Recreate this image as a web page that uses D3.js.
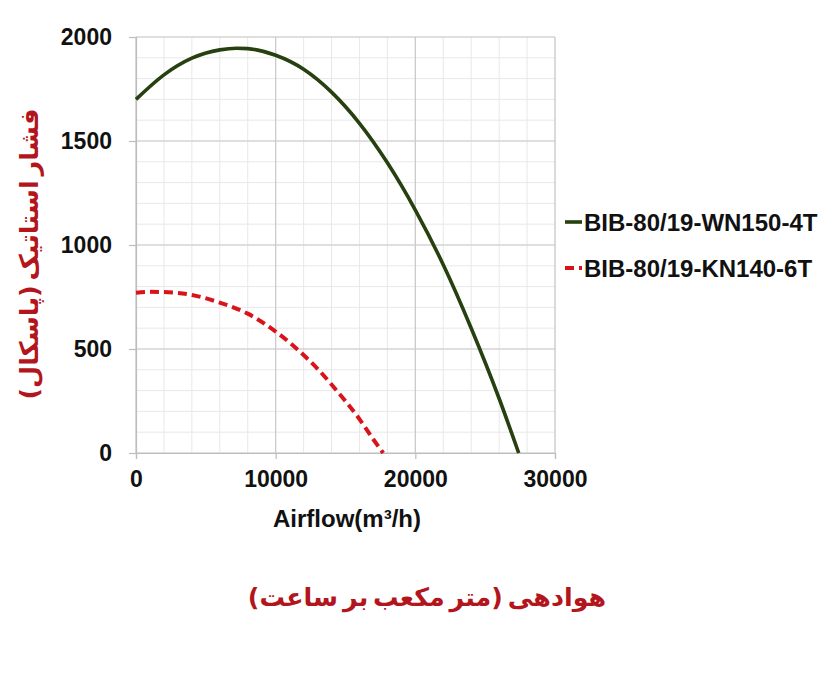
<!DOCTYPE html>
<html><head><meta charset="utf-8">
<script src="https://cdn.jsdelivr.net/npm/d3@7"></script>
<style>body{margin:0;background:#fff}svg{display:block}</style>
</head><body>
<script>
// Data
const seriesNames = ["BIB-80/19-WN150-4T", "BIB-80/19-KN140-6T"];
const greenFlow = [0, 2000, 4000, 6000, 7200, 8000, 10000, 12000, 14000, 16000, 18000, 20000, 22000, 24000, 26000, 27400];
const greenPressure = [1700, 1818, 1898, 1938, 1946, 1944, 1912, 1845, 1735, 1585, 1395, 1168, 905, 600, 262, 0];
const redFlow = [0, 1000, 2000, 4000, 6000, 8000, 10000, 12000, 13000, 14000, 15000, 16000, 17000, 17700];
const redPressure = [770, 775, 774, 760, 723, 670, 584, 471, 405, 329, 249, 163, 65, 0];
const xTicks = [0, 10000, 20000, 30000];
const yTicks = [0, 500, 1000, 1500, 2000];
const xTitle = "Airflow(m³/h)";
const xTitleFa = "هوادهی (متر مکعب بر ساعت)";
const yTitleFa = "فشار استاتیک (پاسکال)";

const W = 838, H = 684;
const svg = d3.select("body").append("svg").attr("width", W).attr("height", H);
svg.append("rect").attr("width", W).attr("height", H).attr("fill", "#fff");

const x = d3.scaleLinear().domain([0, 30000]).range([136, 555]);
const y = d3.scaleLinear().domain([0, 2000]).range([453, 37]);

const grid = svg.append("g");
// minor gridlines
grid.selectAll(".vm").data(d3.range(0, 30001, 2000)).join("line")
  .attr("x1", d => x(d)).attr("x2", d => x(d)).attr("y1", y(0)).attr("y2", y(2000))
  .attr("stroke", "#e8e8e8").attr("stroke-width", 1);
grid.selectAll(".hm").data(d3.range(0, 2001, 100)).join("line")
  .attr("x1", x(0)).attr("x2", x(30000)).attr("y1", d => y(d)).attr("y2", d => y(d))
  .attr("stroke", "#e8e8e8").attr("stroke-width", 1);
// major gridlines
grid.selectAll(".vM").data(xTicks).join("line")
  .attr("x1", d => x(d)).attr("x2", d => x(d)).attr("y1", y(0)).attr("y2", y(2000))
  .attr("stroke", "#c9c9c9").attr("stroke-width", 1.2);
grid.selectAll(".hM").data(yTicks).join("line")
  .attr("x1", x(0)).attr("x2", x(30000)).attr("y1", d => y(d)).attr("y2", d => y(d))
  .attr("stroke", "#c9c9c9").attr("stroke-width", 1.2);

// axes
const xAxis = svg.append("g").attr("transform", `translate(0,${y(0)})`)
  .call(d3.axisBottom(x).tickValues(xTicks).tickSize(6).tickPadding(12).tickFormat(d3.format("d")));
const yAxis = svg.append("g").attr("transform", `translate(${x(0)},0)`)
  .call(d3.axisLeft(y).tickValues(yTicks).tickSize(7).tickPadding(17).tickFormat(d3.format("d")));
[xAxis, yAxis].forEach(a => {
  a.select(".domain").attr("stroke", "#bdbdbd").attr("stroke-width", 1.2);
  a.selectAll(".tick line").attr("stroke", "#bdbdbd").attr("stroke-width", 1.2);
  a.selectAll(".tick text").attr("fill", "#111").attr("font-family", "'Liberation Sans', Arial, sans-serif")
    .attr("font-weight", "bold").attr("font-size", 23);
});

// curves
const line = d3.line().x(d => x(d[0])).y(d => y(d[1])).curve(d3.curveMonotoneX);
const greenData = greenFlow.map((f, i) => [f, greenPressure[i]]);
const redData = redFlow.map((f, i) => [f, redPressure[i]]);
svg.append("path").attr("d", line(greenData)).attr("fill", "none")
  .attr("stroke", "#27400f").attr("stroke-width", 3.6);
svg.append("path").attr("d", line(redData)).attr("fill", "none")
  .attr("stroke", "#d8141a").attr("stroke-width", 4).attr("stroke-dasharray", "9,5");

// x title
svg.append("text").attr("x", 347).attr("y", 527).attr("text-anchor", "middle")
  .attr("font-family", "'Liberation Sans', Arial, sans-serif").attr("font-weight", "bold")
  .attr("font-size", 24).attr("fill", "#111").text(xTitle);

// legend
const legendY = [222, 268];
const colors = ["#27400f", "#d8141a"];
seriesNames.forEach((name, i) => {
  const g = svg.append("g");
  g.append("line").attr("x1", 565).attr("x2", 582).attr("y1", legendY[i]).attr("y2", legendY[i])
    .attr("stroke", colors[i]).attr("stroke-width", i === 0 ? 3.6 : 4)
    .attr("stroke-dasharray", i === 0 ? null : "9,5");
  g.append("text").attr("x", 584).attr("y", legendY[i] + 9)
    .attr("font-family", "'Liberation Sans', Arial, sans-serif").attr("font-weight", "bold")
    .attr("font-size", 24).attr("fill", "#111").text(name);
});

// Persian titles
function fitText(sel, target) {
  const len = sel.node().getComputedTextLength();
  const fs = +sel.attr("font-size");
  if (len > 0) sel.attr("font-size", fs * target / len);
}
const xFa = svg.append("text").attr("x", 427).attr("y", 606).attr("text-anchor", "middle")
  .attr("direction", "rtl").attr("word-spacing", -4)
  .attr("font-family", "'DejaVu Sans', sans-serif").attr("font-weight", "bold")
  .attr("font-size", 28).attr("fill", "#b3151c").text(xTitleFa);
fitText(xFa, 360);
const yFa = svg.append("text").attr("transform", "translate(38,254) rotate(-90)")
  .attr("text-anchor", "middle").attr("direction", "rtl").attr("word-spacing", -4)
  .attr("font-family", "'DejaVu Sans', sans-serif").attr("font-weight", "bold")
  .attr("font-size", 28).attr("fill", "#b3151c").text(yTitleFa);
fitText(yFa, 292);
</script>
</body></html>
